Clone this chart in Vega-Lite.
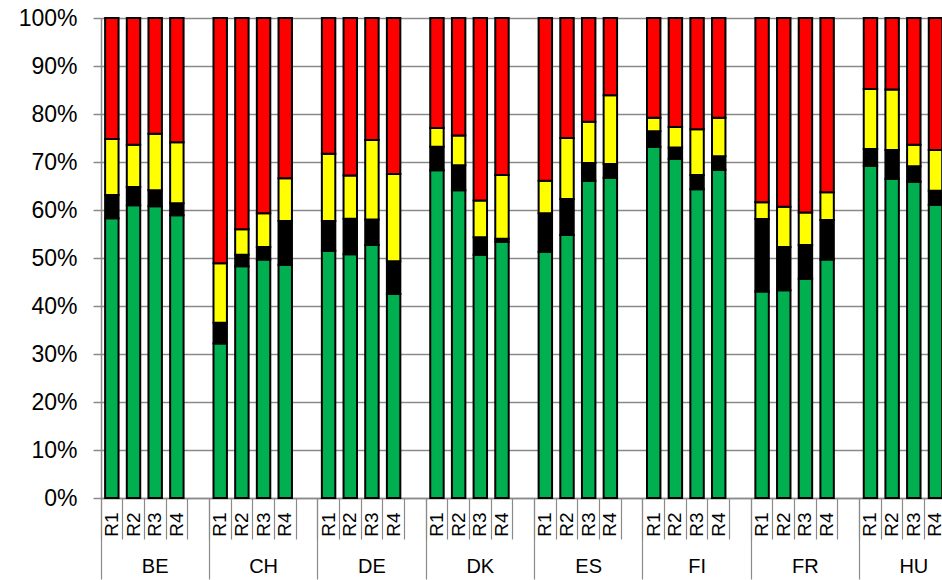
{
  "$schema": "https://vega.github.io/schema/vega-lite/v6.json",
  "autosize": "none",
  "padding": {"left": 101, "top": 18, "right": 0, "bottom": 82},
  "width": 841,
  "height": 480,
  "background": "white",
  "config": {"view": {"stroke": null}, "font": "Liberation Sans"},
  "data": {"values": [
    {"slot":"BE R1","cat":"A","v":58.3},{"slot":"BE R1","cat":"B","v":4.8},{"slot":"BE R1","cat":"C","v":11.7},{"slot":"BE R1","cat":"D","v":25.2},
    {"slot":"BE R2","cat":"A","v":61.0},{"slot":"BE R2","cat":"B","v":3.8},{"slot":"BE R2","cat":"C","v":8.8},{"slot":"BE R2","cat":"D","v":26.4},
    {"slot":"BE R3","cat":"A","v":60.8},{"slot":"BE R3","cat":"B","v":3.3},{"slot":"BE R3","cat":"C","v":11.8},{"slot":"BE R3","cat":"D","v":24.1},
    {"slot":"BE R4","cat":"A","v":58.9},{"slot":"BE R4","cat":"B","v":2.5},{"slot":"BE R4","cat":"C","v":12.7},{"slot":"BE R4","cat":"D","v":25.9},
    {"slot":"CH R1","cat":"A","v":32.2},{"slot":"CH R1","cat":"B","v":4.3},{"slot":"CH R1","cat":"C","v":12.4},{"slot":"CH R1","cat":"D","v":51.1},
    {"slot":"CH R2","cat":"A","v":48.3},{"slot":"CH R2","cat":"B","v":2.4},{"slot":"CH R2","cat":"C","v":5.3},{"slot":"CH R2","cat":"D","v":44.0},
    {"slot":"CH R3","cat":"A","v":49.7},{"slot":"CH R3","cat":"B","v":2.6},{"slot":"CH R3","cat":"C","v":7.0},{"slot":"CH R3","cat":"D","v":40.7},
    {"slot":"CH R4","cat":"A","v":48.6},{"slot":"CH R4","cat":"B","v":9.1},{"slot":"CH R4","cat":"C","v":8.9},{"slot":"CH R4","cat":"D","v":33.4},
    {"slot":"DE R1","cat":"A","v":51.5},{"slot":"DE R1","cat":"B","v":6.2},{"slot":"DE R1","cat":"C","v":14.0},{"slot":"DE R1","cat":"D","v":28.3},
    {"slot":"DE R2","cat":"A","v":50.8},{"slot":"DE R2","cat":"B","v":7.4},{"slot":"DE R2","cat":"C","v":9.0},{"slot":"DE R2","cat":"D","v":32.8},
    {"slot":"DE R3","cat":"A","v":52.7},{"slot":"DE R3","cat":"B","v":5.3},{"slot":"DE R3","cat":"C","v":16.6},{"slot":"DE R3","cat":"D","v":25.4},
    {"slot":"DE R4","cat":"A","v":42.5},{"slot":"DE R4","cat":"B","v":6.8},{"slot":"DE R4","cat":"C","v":18.2},{"slot":"DE R4","cat":"D","v":32.5},
    {"slot":"DK R1","cat":"A","v":68.3},{"slot":"DK R1","cat":"B","v":4.9},{"slot":"DK R1","cat":"C","v":3.9},{"slot":"DK R1","cat":"D","v":22.9},
    {"slot":"DK R2","cat":"A","v":64.1},{"slot":"DK R2","cat":"B","v":5.2},{"slot":"DK R2","cat":"C","v":6.2},{"slot":"DK R2","cat":"D","v":24.5},
    {"slot":"DK R3","cat":"A","v":50.7},{"slot":"DK R3","cat":"B","v":3.6},{"slot":"DK R3","cat":"C","v":7.7},{"slot":"DK R3","cat":"D","v":38.0},
    {"slot":"DK R4","cat":"A","v":53.4},{"slot":"DK R4","cat":"B","v":0.6},{"slot":"DK R4","cat":"C","v":13.3},{"slot":"DK R4","cat":"D","v":32.7},
    {"slot":"ES R1","cat":"A","v":51.3},{"slot":"ES R1","cat":"B","v":8.0},{"slot":"ES R1","cat":"C","v":6.8},{"slot":"ES R1","cat":"D","v":33.9},
    {"slot":"ES R2","cat":"A","v":54.8},{"slot":"ES R2","cat":"B","v":7.5},{"slot":"ES R2","cat":"C","v":12.7},{"slot":"ES R2","cat":"D","v":25.0},
    {"slot":"ES R3","cat":"A","v":66.1},{"slot":"ES R3","cat":"B","v":3.7},{"slot":"ES R3","cat":"C","v":8.6},{"slot":"ES R3","cat":"D","v":21.6},
    {"slot":"ES R4","cat":"A","v":66.7},{"slot":"ES R4","cat":"B","v":2.9},{"slot":"ES R4","cat":"C","v":14.3},{"slot":"ES R4","cat":"D","v":16.1},
    {"slot":"FI R1","cat":"A","v":73.2},{"slot":"FI R1","cat":"B","v":3.2},{"slot":"FI R1","cat":"C","v":2.8},{"slot":"FI R1","cat":"D","v":20.8},
    {"slot":"FI R2","cat":"A","v":70.7},{"slot":"FI R2","cat":"B","v":2.3},{"slot":"FI R2","cat":"C","v":4.3},{"slot":"FI R2","cat":"D","v":22.7},
    {"slot":"FI R3","cat":"A","v":64.3},{"slot":"FI R3","cat":"B","v":3.0},{"slot":"FI R3","cat":"C","v":9.5},{"slot":"FI R3","cat":"D","v":23.2},
    {"slot":"FI R4","cat":"A","v":68.4},{"slot":"FI R4","cat":"B","v":2.8},{"slot":"FI R4","cat":"C","v":8.0},{"slot":"FI R4","cat":"D","v":20.8},
    {"slot":"FR R1","cat":"A","v":43.0},{"slot":"FR R1","cat":"B","v":15.1},{"slot":"FR R1","cat":"C","v":3.5},{"slot":"FR R1","cat":"D","v":38.4},
    {"slot":"FR R2","cat":"A","v":43.3},{"slot":"FR R2","cat":"B","v":9.0},{"slot":"FR R2","cat":"C","v":8.4},{"slot":"FR R2","cat":"D","v":39.3},
    {"slot":"FR R3","cat":"A","v":45.7},{"slot":"FR R3","cat":"B","v":7.0},{"slot":"FR R3","cat":"C","v":6.8},{"slot":"FR R3","cat":"D","v":40.5},
    {"slot":"FR R4","cat":"A","v":49.7},{"slot":"FR R4","cat":"B","v":8.2},{"slot":"FR R4","cat":"C","v":5.8},{"slot":"FR R4","cat":"D","v":36.3},
    {"slot":"HU R1","cat":"A","v":69.2},{"slot":"HU R1","cat":"B","v":3.5},{"slot":"HU R1","cat":"C","v":12.5},{"slot":"HU R1","cat":"D","v":14.8},
    {"slot":"HU R2","cat":"A","v":66.5},{"slot":"HU R2","cat":"B","v":6.0},{"slot":"HU R2","cat":"C","v":12.6},{"slot":"HU R2","cat":"D","v":14.9},
    {"slot":"HU R3","cat":"A","v":65.9},{"slot":"HU R3","cat":"B","v":3.2},{"slot":"HU R3","cat":"C","v":4.5},{"slot":"HU R3","cat":"D","v":26.4},
    {"slot":"HU R4","cat":"A","v":61.1},{"slot":"HU R4","cat":"B","v":2.9},{"slot":"HU R4","cat":"C","v":8.5},{"slot":"HU R4","cat":"D","v":27.5}
  ]},
  "resolve": {"axis": {"x": "independent"}},
  "layer": [
    {
      "mark": {"type": "bar", "stroke": "#000000", "strokeWidth": 2, "width": {"band": 0.62}},
      "encoding": {
        "x": {"field": "slot", "type": "nominal",
          "scale": {"type": "band", "paddingInner": 0, "paddingOuter": 0, "range": [0, 867],
            "domain": ["BE R1","BE R2","BE R3","BE R4","BE -","CH R1","CH R2","CH R3","CH R4","CH -","DE R1","DE R2","DE R3","DE R4","DE -","DK R1","DK R2","DK R3","DK R4","DK -","ES R1","ES R2","ES R3","ES R4","ES -","FI R1","FI R2","FI R3","FI R4","FI -","FR R1","FR R2","FR R3","FR R4","FR -","HU R1","HU R2","HU R3","HU R4","HU -"]},
          "axis": {"orient": "bottom", "title": null, "labels": false, "grid": false, "bandPosition": 0, "tickSize": 41, "tickColor": "#8a8a8a", "tickWidth": 1.2, "domainColor": "#8a8a8a", "domainWidth": 1.5}
        },
        "y": {"field": "v", "type": "quantitative", "stack": "zero",
          "scale": {"domain": [0, 100], "nice": false},
          "axis": {"title": null, "values": [0,10,20,30,40,50,60,70,80,90,100], "labelExpr": "datum.value + '%'",
            "tickSize": 8, "labelPadding": 16, "labelFontSize": 23, "labelFont": "Liberation Sans", "labelColor": "#000000",
            "domainColor": "#8a8a8a", "domainWidth": 1.5, "tickColor": "#8a8a8a", "tickWidth": 1.5,
            "grid": true, "gridColor": "#8a8a8a", "gridWidth": 1.5}
        },
        "color": {"field": "cat", "type": "nominal", "legend": null,
          "scale": {"domain": ["A","B","C","D"], "range": ["#00B050","#000000","#FFFF00","#FF0000"]}},
        "order": {"field": "cat", "sort": "ascending"}
      }
    },
    {
      "mark": {"type": "rule", "opacity": 0},
      "encoding": {
        "x": {"field": "slot", "type": "nominal",
          "axis": {"orient": "bottom", "title": null, "labels": false, "domain": false, "grid": false, "bandPosition": 0, "tickSize": 81, "tickColor": "#8a8a8a", "tickWidth": 1.2,
            "values": ["BE R1","CH R1","DE R1","DK R1","ES R1","FI R1","FR R1","HU R1"]}
        }
      }
    },
    {
      "mark": {"type": "rule", "opacity": 0},
      "encoding": {
        "x": {"field": "slot", "type": "nominal",
          "axis": {"orient": "bottom", "title": null, "ticks": false, "tickSize": 0, "domain": false, "grid": false,
            "labelAngle": 270, "labelAlign": "right", "labelBaseline": "middle", "labelPadding": 14,
            "labelFontSize": 19, "labelFont": "Liberation Sans", "labelColor": "#000000", "labelOverlap": false, "labelBound": false,
            "labelExpr": "split(datum.value, ' ')[1]",
            "values": ["BE R1","BE R2","BE R3","BE R4","CH R1","CH R2","CH R3","CH R4","DE R1","DE R2","DE R3","DE R4","DK R1","DK R2","DK R3","DK R4","ES R1","ES R2","ES R3","ES R4","FI R1","FI R2","FI R3","FI R4","FR R1","FR R2","FR R3","FR R4","HU R1","HU R2","HU R3","HU R4"]}
        }
      }
    },
    {
      "mark": {"type": "rule", "opacity": 0},
      "encoding": {
        "x": {"field": "slot", "type": "nominal",
          "axis": {"orient": "bottom", "title": null, "ticks": false, "tickSize": 0, "domain": false, "grid": false,
            "labelAngle": 0, "labelAlign": "center", "labelBaseline": "top", "labelPadding": 58,
            "labelFontSize": 20, "labelFont": "Liberation Sans", "labelColor": "#000000", "labelOverlap": false, "labelBound": false,
            "labelExpr": "split(datum.value, ' ')[0]",
            "values": ["BE R3","CH R3","DE R3","DK R3","ES R3","FI R3","FR R3","HU R3"]}
        }
      }
    }
  ]
}
